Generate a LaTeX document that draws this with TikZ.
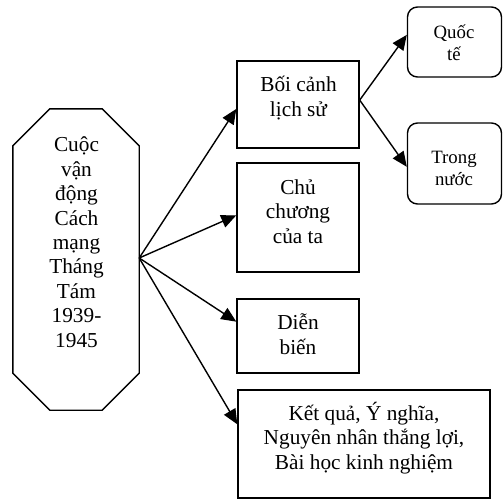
\documentclass[tikz,border=0pt]{standalone}
\usepackage{fontspec}
\setmainfont{Liberation Serif}
\usetikzlibrary{arrows.meta,calc}

\tikzset{
  frame/.style={draw, line width=1.4pt, rectangle, inner sep=0pt},
  rframe/.style={frame, rounded corners=10pt},
  hold/.style={rectangle, inner sep=0pt},
  % anchor=base sits on the last line's baseline
  lbl/.style={align=center, anchor=base, inner sep=0pt,
    font=\fontsize{21.3}{24.4}\selectfont},
  slbl/.style={lbl, font=\fontsize{18.8}{22}\selectfont},
  arr/.style={line width=1.4pt, -{Triangle[length=15pt,width=13pt]}},
}

\begin{document}
\begin{tikzpicture}[x=1pt, y=-1pt]
  \useasboundingbox (0,0) rectangle (503,501);

  % central octagon
  \node[hold, minimum width=126pt, minimum height=301pt] (main) at (76,259.5) {};
  \draw[line width=1.4pt]
    ([xshift=37pt]main.north west) -- ([xshift=-37pt]main.north east)
    -- ([yshift=-37pt]main.north east) -- ([yshift=37pt]main.south east)
    -- ([xshift=-37pt]main.south east) -- ([xshift=37pt]main.south west)
    -- ([yshift=37pt]main.south west) -- ([yshift=-37pt]main.north west)
    -- cycle;
  \node[lbl] (mainT) at (76.5,347)
    {Cuộc\\vận\\động\\Cách\\mạng\\Tháng\\Tám\\1939-\\1945};

  % branch boxes
  \node[frame, minimum width=122pt, minimum height=87pt]  (bc) at (298,104.5) {};
  \node[frame, minimum width=122pt, minimum height=109pt] (cc) at (298,217.5) {};
  \node[frame, minimum width=122pt, minimum height=74pt]  (db) at (298,336) {};
  \node[frame, minimum width=252pt, minimum height=108pt] (kq) at (364,444) {};
  \node[rframe, minimum width=94pt, minimum height=70pt]  (qt) at (454.5,42) {};
  \node[rframe, minimum width=94pt, minimum height=81pt]  (tn) at (454.5,163.5) {};

  \node[lbl] (bcT) at (298.5,116) {Bối cảnh\\lịch sử};
  \node[lbl] (ccT) at (298,243) {Chủ\\chương\\của ta};
  \node[lbl] (dbT) at (298,354) {Diễn\\biến};
  \node[lbl] (kqT) at (364,469) {Kết quả, Ý nghĩa,\\Nguyên nhân thắng lợi,\\Bài học kinh nghiệm};
  \node[slbl] (qtT) at (454,60) {Quốc\\tế};
  \node[slbl] (tnT) at (454,185) {Trong\\nước};

  % connector ends
  \coordinate (o)   at ($(main.north east)!0.495!(main.south east)$);
  \coordinate (bcI) at ($(bc.north west)!0.55!(bc.south west)$);
  \coordinate (ccI) at ($(cc.north west)!0.48!(cc.south west)$);
  \coordinate (dbI) at ($(db.north west)!0.31!(db.south west)$);
  \coordinate (kqI) at ($(kq.north west)!0.32!(kq.south west)$);
  \coordinate (bcO) at ($(bc.north east)!0.45!(bc.south east)$);
  \coordinate (qtI) at ($(qt.north west)!0.40!(qt.south west)$);
  \coordinate (tnI) at ($(tn.north west)!0.54!(tn.south west)$);

  \draw[arr] (o) -- (bcI);
  \draw[arr] (o) -- (ccI);
  \draw[arr] (o) -- (dbI);
  \draw[arr] (o) -- (kqI);
  \draw[arr] (bcO) -- (qtI);
  \draw[arr] (bcO) -- (tnI);
\end{tikzpicture}
\end{document}
